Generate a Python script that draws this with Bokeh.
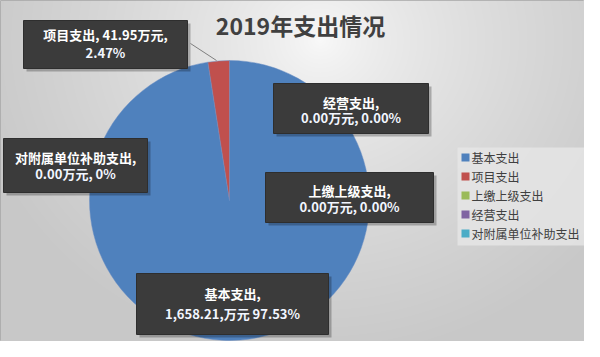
import numpy as np
from bokeh.plotting import figure
from bokeh.models import Range1d, ColumnDataSource
from bokeh.core.properties import value
from bokeh.embed import file_html
from bokeh.resources import INLINE

# ---- data ----
categories = ["基本支出", "项目支出", "上缴上级支出", "经营支出", "对附属单位补助支出"]
amounts = [1658.21, 41.95, 0.00, 0.00, 0.00]
colors = ["#4f81bd", "#c0504d", "#9bbb59", "#8064a2", "#4bacc6"]
label_line1 = ["基本支出,", "项目支出, 41.95万元,", "上缴上级支出,", "经营支出,", "对附属单位补助支出,"]
label_line2 = ["1,658.21,万元 97.53%", "2.47%", "0.00万元, 0.00%", "0.00万元, 0.00%", "0.00万元, 0%"]
title_text = "2019年支出情况"

H = 357
def sy(Y):
    return H - Y

FONT = value("Noto Sans CJK SC")

p = figure(width=584, height=341, output_backend="svg", toolbar_location=None,
           x_range=Range1d(0, 584), y_range=Range1d(16, 357), min_border=0)
p.axis.visible = False
p.grid.visible = False
p.outline_line_color = "#a6a6a6"
p.background_fill_color = "#d8d8d8"
p.border_fill_color = "white"

# ---- radial gradient background ----
ny, nx = 357, 600
yy, xx = np.mgrid[0:ny, 0:nx]
Ys = H - (yy + 0.5)
Xs = xx + 0.5
d = np.sqrt(((Xs - 320) / 1.0) ** 2 + ((Ys - 40) / 0.9) ** 2)
t = np.clip(d / 360.0, 0, 1)
g = (250 - (250 - 200) * t ** 0.7).astype(np.uint32)
img = (255 << 24) | (g << 16) | (g << 8) | g
p.image_rgba(image=[img.astype(np.uint32)], x=0, y=0, dw=600, dh=357)

# legend panel background
p.rect(x=[523], y=[sy(196)], width=[132], height=[98], fill_color="#e6e6e6",
       line_color=None, fill_alpha=0.8)

# ---- pie ----
cx, cy, r = 229, sy(200), 140
total = sum(amounts)
starts, ends, cols = [], [], []
acc = 0.0
for a, c in zip(amounts, colors):
    if a > 0:
        s = np.pi / 2 - acc / total * 2 * np.pi
        e = np.pi / 2 - (acc + a) / total * 2 * np.pi
        starts.append(s); ends.append(e); cols.append(c)
    acc += a
src = ColumnDataSource(dict(x=[cx] * len(starts), y=[cy] * len(starts), s=starts, e=ends, c=cols))
p.wedge(x="x", y="y", radius=r, start_angle="s", end_angle="e", direction="clock",
        fill_color="c", line_color="#6a8fc4", line_width=0.5, source=src)

# ---- leader line for 项目支出 ----
p.line(x=[190, 216], y=[sy(43), sy(60)], line_color="#7f7f7f", line_width=1)

# ---- data label boxes ----
# order: 基本, 项目, 上缴, 经营, 对附属
box_x0 = [136, 23, 265, 273, 3]
box_x1 = [328, 187, 433, 428, 147]
box_y0 = [273, 20, 172, 83, 138]
box_y1 = [334, 68, 222, 133, 192]
txt_y1 = [293, 34, 190, 102, 157]
txt_y2 = [313, 52, 206, 117, 173]

bx = [(a + b) / 2 for a, b in zip(box_x0, box_x1)]
bw = [b - a for a, b in zip(box_x0, box_x1)]
by = [sy((a + b) / 2) for a, b in zip(box_y0, box_y1)]
bh = [b - a for a, b in zip(box_y0, box_y1)]

p.rect(x=[v + 3 for v in bx], y=[v - 3 for v in by], width=bw, height=bh,
       fill_color="#000000", fill_alpha=0.25, line_color=None)
p.rect(x=bx, y=by, width=bw, height=bh, fill_color="#3b3b3b", line_color="#2e2e2e")

p.text(x=bx, y=[sy(v) for v in txt_y1], text=label_line1, text_color="white",
       text_font=FONT, text_font_size="13px", text_font_style="bold",
       text_align="center", text_baseline="middle")
p.text(x=bx, y=[sy(v) for v in txt_y2], text=label_line2, text_color="#f2f6ff",
       text_font=FONT, text_font_size="13px", text_font_style="bold",
       text_align="center", text_baseline="middle")

# ---- title ----
p.text(x=[300], y=[sy(24)], text=[title_text], text_color="#404040",
       text_font=FONT, text_font_size="23px", text_font_style="bold",
       text_align="center", text_baseline="middle")

# ---- legend ----
leg_y = [157, 176, 195, 214, 233]
p.rect(x=[465] * 5, y=[sy(v) for v in leg_y], width=8, height=8, fill_color=colors, line_color=None)
p.text(x=[471] * 5, y=[sy(v) for v in leg_y], text=categories, text_color="#404040",
       text_font=FONT, text_font_size="12px", text_align="left", text_baseline="middle")

open("out.html", "w").write(file_html(p, INLINE))
